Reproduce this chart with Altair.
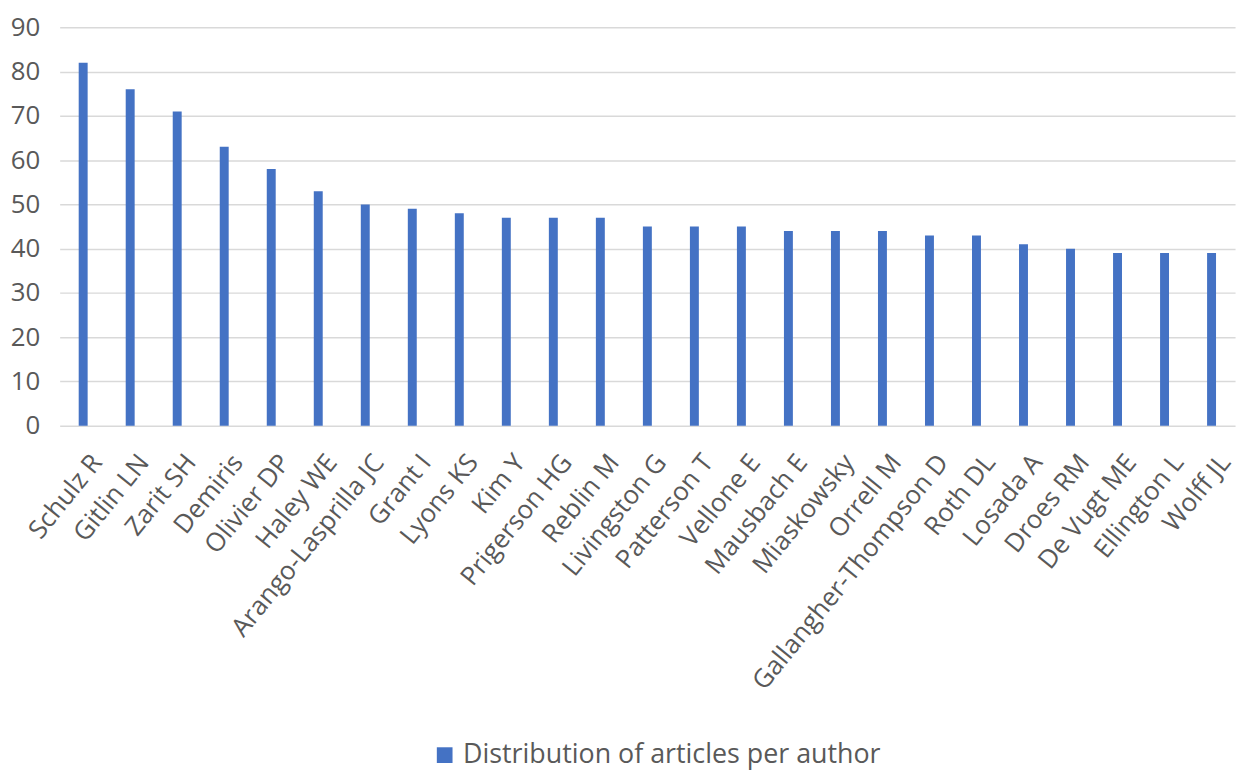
import altair as alt
import pandas as pd

authors = ["Schulz R", "Gitlin LN", "Zarit SH", "Demiris", "Olivier DP", "Haley WE",
           "Arango-Lasprilla JC", "Grant I", "Lyons KS", "Kim Y", "Prigerson HG", "Reblin M",
           "Livingston G", "Patterson T", "Vellone E", "Mausbach E", "Miaskowsky", "Orrell M",
           "Gallangher-Thompson D", "Roth DL", "Losada A", "Droes RM", "De Vugt ME",
           "Ellington L", "Wolff JL"]
articles = [82, 76, 71, 63, 58, 53, 50, 49, 48, 47, 47, 47, 45, 45, 45, 44, 44, 44,
            43, 43, 41, 40, 39, 39, 39]
series_name = "Distribution of articles per author"
y_ticks = [0, 10, 20, 30, 40, 50, 60, 70, 80, 90]

df = pd.DataFrame({"author": authors, "articles": articles, "series": [series_name] * len(authors)})

FONT = "Open Sans"
GREY = "#595959"

chart = alt.Chart(df).mark_bar(size=9, color="#4472C4").encode(
    x=alt.X("author:N", sort=authors,
            scale=alt.Scale(range=[-10, 1173], paddingInner=0, paddingOuter=0),
            axis=alt.Axis(title=None, labelAngle=309, labelFontSize=26, labelColor=GREY,
                          labelFont=FONT, ticks=False, domain=False, labelPadding=32,
                          labelOffset=14, labelOverlap=False, labelLimit=400)),
    y=alt.Y("articles:Q", scale=alt.Scale(domain=[0, 90], nice=False),
            axis=alt.Axis(title=None, values=y_ticks, labelFontSize=26, labelColor=GREY,
                          labelFont=FONT, ticks=False, domain=False, labelPadding=30,
                          gridColor="#D9D9D9", gridWidth=1.5)),
    color=alt.Color("series:N", scale=alt.Scale(range=["#4472C4"]),
                    legend=alt.Legend(title=None, orient="none", legendX=364, legendY=719,
                                      symbolType="square", symbolSize=250,
                                      symbolStrokeWidth=0, labelFontSize=27,
                                      labelColor=GREY, labelFont=FONT, labelLimit=700,
                                      labelOffset=5)),
).properties(
    width=1183, height=401,
    autosize=alt.AutoSizeParams(type="none"),
    padding={"left": 62, "top": 17, "right": 0, "bottom": 345},
).configure_view(stroke=None)

chart.save("out.html", embed_options={"renderer": "svg", "actions": False})
